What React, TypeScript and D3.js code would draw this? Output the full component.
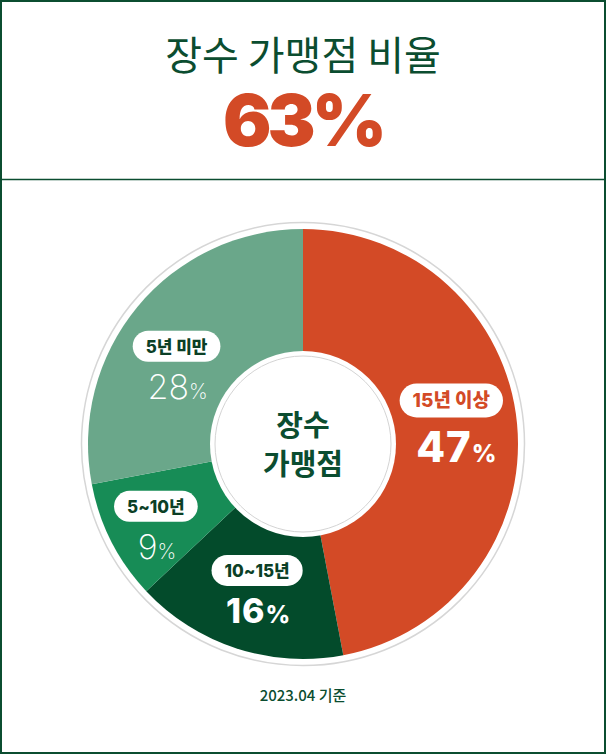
import React, {useEffect, useRef} from 'react';
import * as d3 from 'd3';

// chart data
const categories: string[] = ['15년 이상', '10~15년', '5~10년', '5년 미만'];
const shares: number[] = [47, 16, 9, 28];
const titleText = '장수 가맹점 비율';
const headlineShare = 63;
const centerLines: string[] = ['장수', '가맹점'];
const footnote = '2023.04 기준';

// look of each slice, keyed by category
const sliceStyle: Record<string, {fill: string; badgeText: string; bold: boolean; dx: number; dy: number}> = {
  '15년 이상': {fill: '#d34a26', badgeText: '#d34a26', bold: true, dx: -6, dy: -29},
  '10~15년': {fill: '#034b2b', badgeText: '#0b3f26', bold: true, dx: 2, dy: -21},
  '5~10년': {fill: '#178c56', badgeText: '#0b3f26', bold: false, dx: -9, dy: -8},
  '5년 미만': {fill: '#6aa78a', badgeText: '#0b3f26', bold: false, dx: -7, dy: 1},
};

const W = 606;
const H = 754;
const GREEN = '#0b4d30';
const KR = "'Noto Sans CJK KR', sans-serif";
const NUM = "Inter, 'Noto Sans CJK KR', sans-serif";

const App = () => {
  const ref = useRef<SVGSVGElement>(null);

  useEffect(() => {
    const svg = d3.select(ref.current);
    svg.selectAll('*').remove();

    // frame + divider
    svg.append('rect')
      .attr('x', 1).attr('y', 1)
      .attr('width', W - 2).attr('height', H - 2)
      .attr('fill', '#fff')
      .attr('stroke', GREEN).attr('stroke-width', 2);
    svg.append('line')
      .attr('x1', 0).attr('x2', W)
      .attr('y1', 179.5).attr('y2', 179.5)
      .attr('stroke', GREEN).attr('stroke-width', 1.5);

    // header
    svg.append('text')
      .attr('x', W / 2).attr('y', 70)
      .attr('text-anchor', 'middle')
      .attr('font-family', KR).attr('font-size', 40).attr('font-weight', 400)
      .attr('fill', GREEN)
      .text(titleText);
    svg.append('text')
      .attr('x', W / 2).attr('y', 146)
      .attr('text-anchor', 'middle')
      .attr('font-family', NUM).attr('font-size', 72).attr('font-weight', 900)
      .attr('letter-spacing', -4)
      .attr('fill', '#d34a26')
      .text(`${headlineShare}%`);

    // donut
    const cx = 303, cy = 444;
    const rOuter = 215;
    const g = svg.append('g').attr('transform', `translate(${cx},${cy})`);

    g.append('circle').attr('r', rOuter + 6.5)
      .attr('fill', 'none').attr('stroke', '#d6d6d6').attr('stroke-width', 1.5);

    const pie = d3.pie<number>().sort(null).value(d => d);
    const arcs = pie(shares);
    const arc = d3.arc<d3.PieArcDatum<number>>().innerRadius(0).outerRadius(rOuter);
    const labelArc = d3.arc<d3.PieArcDatum<number>>().innerRadius(155).outerRadius(155);

    g.selectAll('.slice')
      .data(arcs)
      .enter().append('path')
      .attr('class', 'slice')
      .attr('d', arc)
      .attr('fill', (d, i) => sliceStyle[categories[i]].fill);

    // hole
    g.append('circle').attr('r', 93).attr('fill', '#fff');
    g.append('circle').attr('r', 88)
      .attr('fill', 'none').attr('stroke', '#d4d4d4').attr('stroke-width', 1);

    g.selectAll('.center')
      .data(centerLines)
      .enter().append('text')
      .attr('class', 'center')
      .attr('x', 0)
      .attr('y', (d, i) => -8 + i * 39)
      .attr('text-anchor', 'middle')
      .attr('font-family', KR).attr('font-size', 29).attr('font-weight', 700)
      .attr('fill', GREEN)
      .text(d => d);

    // labels
    arcs.forEach((d, i) => {
      const cat = categories[i];
      const st = sliceStyle[cat];
      const [lx, ly] = labelArc.centroid(d);
      const px = lx + st.dx;
      const py = ly + st.dy;
      const big = i === 0;
      const fs = big ? 19 : 17;
      const ph = big ? 34 : 31;

      const lg = g.append('g');
      const badge = lg.append('rect').attr('fill', '#fff');
      const t = lg.append('text')
        .attr('x', px).attr('y', py + fs * 0.37)
        .attr('text-anchor', 'middle')
        .attr('font-family', NUM).attr('font-size', fs).attr('font-weight', 800)
        .attr('fill', st.badgeText)
        .text(cat);
      const tw = (t.node() as SVGTextElement).getComputedTextLength();
      const pw = tw + 26;
      badge.attr('x', px - pw / 2).attr('y', py - ph / 2)
        .attr('width', pw).attr('height', ph)
        .attr('rx', ph / 2);

      const vs = big ? 42 : 34;
      const v = lg.append('text')
        .attr('x', px + (big ? 5 : 1))
        .attr('y', py + (big ? 62 : 53))
        .attr('text-anchor', 'middle')
        .attr('font-family', NUM)
        .attr('font-weight', st.bold ? 800 : 200)
        .attr('fill', '#fff');
      v.append('tspan').attr('font-size', vs).attr('letter-spacing', st.bold ? 1 : 0).text(shares[i]);
      v.append('tspan').attr('font-size', big ? 24 : st.bold ? 24 : 21).text('%');
    });

    // footnote
    svg.append('text')
      .attr('x', W / 2).attr('y', 701)
      .attr('text-anchor', 'middle')
      .attr('font-family', KR).attr('font-size', 15).attr('font-weight', 500)
      .attr('fill', GREEN)
      .text(footnote);
  }, []);

  return (
    <svg
      ref={ref}
      width={W}
      height={H}
      style={{position: 'absolute', left: 0, top: 0, display: 'block'}}
    />
  );
};

export default App;
